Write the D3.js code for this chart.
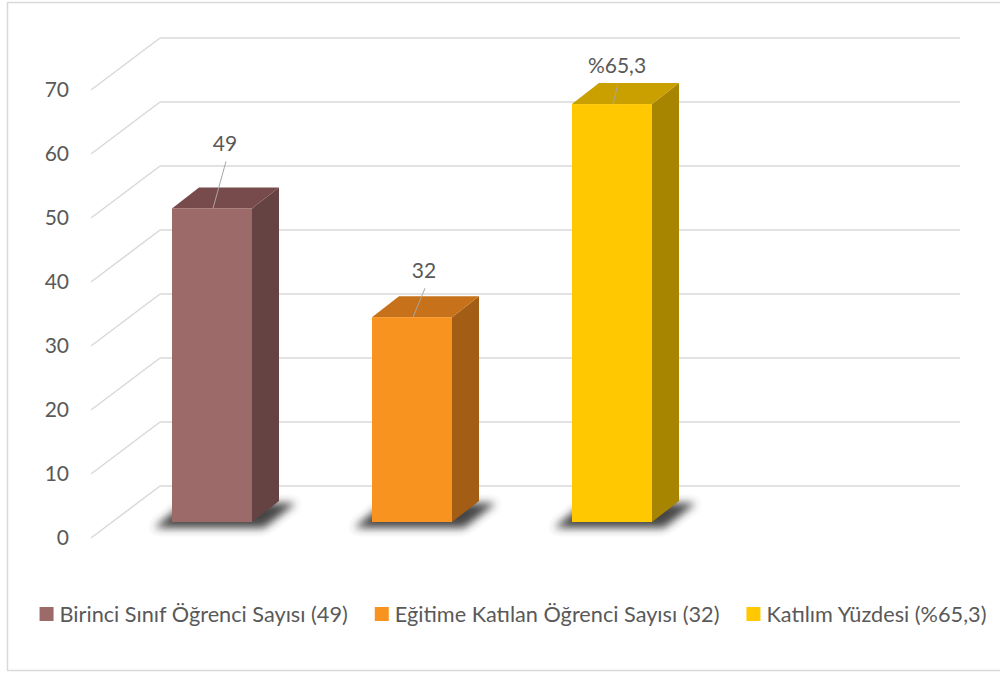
<!DOCTYPE html>
<html>
<head>
<meta charset="utf-8">
<script src="https://cdn.jsdelivr.net/npm/d3@7"></script>
<style>
  body { margin: 0; background: #fff; }
  text { font-family: Lato, "Open Sans", sans-serif; fill: #595959; }
</style>
</head>
<body>
<div class="chart"></div>
<script>
// values
var categories = ["Birinci Sınıf Öğrenci Sayısı (49)", "Eğitime Katılan Öğrenci Sayısı (32)", "Katılım Yüzdesi (%65,3)"];
var values = [49, 32, 65.3];
var valueLabels = ["49", "32", "%65,3"];
var yTicks = [0, 10, 20, 30, 40, 50, 60, 70];

// colours: front, side, top
var frontColors = ["#9c6b69", "#f7931e", "#ffc800"];
var sideColors = ["#654343", "#a35d14", "#a88500"];
var topColors = ["#774b4b", "#c7721a", "#c9a000"];

// manual label placement (like excel)
var labelLift = [65, 47, 38];
var labelShift = [13, 12, 5];

var w = 1000, h = 673;
var depthX = 69, depthY = 52;   // back wall offset
var barDX = 27, barDY = 21;     // bar depth
var barSink = 16;               // bar front sits behind front plane

var svg = d3.select(".chart").append("svg")
  .attr("width", w).attr("height", h);

var defs = svg.append("defs");
defs.append("filter").attr("id", "blur")
  .attr("x", "-30%").attr("y", "-100%").attr("width", "160%").attr("height", "300%")
  .append("feGaussianBlur").attr("stdDeviation", 4);

// chart border
svg.append("rect")
  .attr("x", 7.5).attr("y", 2.5).attr("width", 1000).attr("height", 668)
  .attr("fill", "none").attr("stroke", "#d9d9d9").attr("stroke-width", 1.5);

var y = d3.scaleLinear().domain([0, 70]).range([538, 90]);
var x = d3.scaleBand().domain(categories).range([112, 712])
  .paddingInner(0.6).paddingOuter(0.3);

// gridlines: diagonal on the side wall + back wall line
var grid = svg.append("g");
grid.selectAll(".diag").data(yTicks).enter().append("line")
  .attr("x1", 91).attr("y1", function(d) { return y(d); })
  .attr("x2", 91 + depthX).attr("y2", function(d) { return y(d) - depthY; })
  .attr("stroke", "#d9d9d9").attr("stroke-width", 1.5);
grid.selectAll(".back").data(yTicks).enter().append("line")
  .attr("x1", 91 + depthX).attr("y1", function(d) { return y(d) - depthY; })
  .attr("x2", 960).attr("y2", function(d) { return y(d) - depthY; })
  .attr("stroke", "#d9d9d9").attr("stroke-width", 1.5);

// y axis
var yAxis = svg.append("g").attr("transform", "translate(91,0)")
  .call(d3.axisLeft(y).tickValues(yTicks).tickSize(0).tickPadding(22));
yAxis.select(".domain").remove();
yAxis.selectAll("text").style("font-size", "21px").attr("fill", "#595959")
  .style("font-family", "Lato, sans-serif");

var bw = x.bandwidth();
var bars = svg.selectAll(".bar").data(values).enter().append("g");

// floor shadow
bars.append("polygon")
  .attr("points", function(d, i) {
    var bx = x(categories[i]), by = y(0) - barSink + 6;
    return [[bx - 18, by], [bx + bw + 12, by], [bx + bw + 44, by - 25], [bx + 12, by - 25]].join(" ");
  })
  .attr("fill", "#333").attr("opacity", 0.9).attr("filter", "url(#blur)");

// side face
bars.append("polygon")
  .attr("points", function(d, i) {
    var bx = x(categories[i]) + bw, b = y(0) - barSink, t = y(d) - barSink;
    return [[bx, b], [bx, t], [bx + barDX, t - barDY], [bx + barDX, b - barDY]].join(" ");
  })
  .attr("fill", function(d, i) { return sideColors[i]; });

// top face
bars.append("polygon")
  .attr("points", function(d, i) {
    var bx = x(categories[i]), t = y(d) - barSink;
    return [[bx, t], [bx + bw, t], [bx + bw + barDX, t - barDY], [bx + barDX, t - barDY]].join(" ");
  })
  .attr("fill", function(d, i) { return topColors[i]; });

// front face
bars.append("rect")
  .attr("x", function(d, i) { return x(categories[i]); })
  .attr("y", function(d) { return y(d) - barSink; })
  .attr("width", bw)
  .attr("height", function(d) { return y(0) - y(d); })
  .attr("fill", function(d, i) { return frontColors[i]; });

// leader lines + value labels
bars.append("line")
  .attr("x1", function(d, i) { return x(categories[i]) + bw / 2 + labelShift[i] + 1; })
  .attr("y1", function(d, i) { return y(d) - barSink - labelLift[i] + 18; })
  .attr("x2", function(d, i) { return x(categories[i]) + bw / 2 + 1; })
  .attr("y2", function(d) { return y(d) - barSink; })
  .attr("stroke", "#a6a6a6").attr("stroke-width", 1);

bars.append("text")
  .attr("x", function(d, i) { return x(categories[i]) + bw / 2 + labelShift[i]; })
  .attr("y", function(d, i) { return y(d) - barSink - labelLift[i]; })
  .attr("dy", "0.35em")
  .attr("text-anchor", "middle")
  .style("font-size", "21px")
  .text(function(d, i) { return valueLabels[i]; });

// legend
var legend = svg.append("g").attr("transform", "translate(0,614)");
var items = legend.selectAll("g").data(categories).enter().append("g");
items.append("rect").attr("x", 0).attr("y", -7).attr("width", 14).attr("height", 14)
  .attr("fill", function(d, i) { return frontColors[i]; });
items.append("text").attr("x", 20).attr("dy", "0.35em")
  .style("font-size", "21.7px")
  .text(function(d) { return d; });

var pos = 0, offsets = [];
items.each(function() {
  offsets.push(pos);
  pos += 20 + d3.select(this).select("text").node().getComputedTextLength() + 27;
});
var total = pos - 27;
var start = 513 - total / 2;
items.attr("transform", function(d, i) { return "translate(" + (start + offsets[i]) + ",0)"; });
</script>
</body>
</html>
